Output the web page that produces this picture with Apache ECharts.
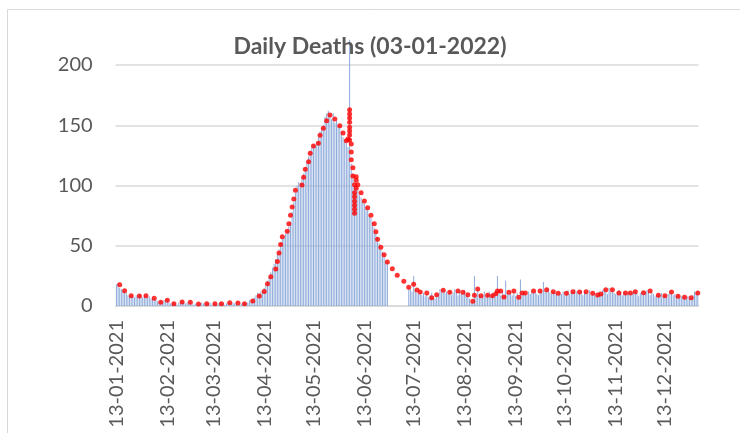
<!DOCTYPE html>
<html>
<head>
<meta charset="utf-8">
<script src="https://cdn.jsdelivr.net/npm/echarts@6/dist/echarts.min.js"></script>
<style>
  html, body { margin: 0; padding: 0; background: #fff; }
  #chart { width: 740px; height: 433px; }
</style>
</head>
<body>
<div id="chart"></div>
<script>
// daily deaths, one value per day from 13-01-2021
const startDay = [2021, 0, 13]
const dailyDeaths = [
  18, 19, 15, 14, 13, 12, 11, 9, 8, 9,
  8, 7, 9, 8, 10, 8, 7, 9, 8, 7,
  8, 6, 7, 6, 5, 4, 3, 4, 3, 5,
  4, 5, 3, 2, 2, 3, 2, 1, 3, 2,
  4, 3, 2, 3, 2, 3, 2, 1, 2, 2,
  1, 2, 3, 2, 1, 2, 2, 3, 1, 2,
  2, 1, 2, 3, 2, 2, 1, 2, 3, 3,
  2, 3, 2, 3, 2, 1, 2, 2, 3, 2,
  3, 5, 4, 6, 7, 9, 11, 10, 12, 13,
  15, 18, 21, 24, 28, 32, 35, 39, 43, 47,
  52, 56, 58, 60, 62, 66, 70, 78, 86, 94,
  100, 103, 102, 106, 110, 115, 120, 124, 129, 132,
  134, 133, 136, 140, 145, 148, 150, 157, 160, 162,
  158, 155, 160, 152, 154, 150, 148, 145, 140, 138,
  135, 132, 221, 118, 110, 100, 98, 96, 92, 90,
  87, 85, 82, 80, 76, 73, 70, 65, 60, 57,
  52, 48, 45, 42, 38, 36, 0, 0, 0, 0,
  0, 0, 0, 0, 0, 0, 0, 0, 15, 14,
  12, 25, 13, 11, 10, 12, 9, 11, 8, 10,
  7, 9, 11, 8, 6, 9, 10, 14, 12, 13,
  11, 12, 10, 13, 9, 11, 14, 12, 9, 12,
  10, 11, 13, 9, 8, 6, 3, 4, 25, 8,
  14, 10, 8, 9, 12, 8, 10, 12, 9, 11,
  8, 10, 25, 13, 9, 12, 8, 21, 11, 10,
  12, 9, 13, 8, 11, 7, 22, 10, 11, 10,
  9, 12, 10, 13, 11, 12, 10, 9, 13, 11,
  20, 13, 12, 14, 11, 10, 12, 11, 10, 9,
  11, 10, 12, 9, 11, 13, 10, 12, 11, 14,
  12, 10, 11, 13, 9, 12, 11, 10, 13, 9,
  10, 11, 8, 9, 12, 10, 13, 14, 12, 10,
  15, 12, 14, 11, 10, 12, 13, 11, 9, 12,
  11, 10, 12, 9, 11, 13, 12, 10, 8, 11,
  12, 10, 11, 13, 12, 9, 11, 10, 8, 9,
  10, 9, 11, 8, 9, 7, 10, 12, 11, 9,
  10, 8, 9, 7, 8, 9, 7, 6, 8, 7,
  7, 9, 12, 11, 12
]

// red dots (reported average), date + value
const dotDates = [
  '15-01-2021', '18-01-2021', '22-01-2021', '27-01-2021', '31-01-2021',
  '05-02-2021', '09-02-2021', '13-02-2021', '17-02-2021', '22-02-2021', '27-02-2021',
  '04-03-2021', '09-03-2021', '14-03-2021', '18-03-2021', '23-03-2021', '28-03-2021',
  '01-04-2021', '06-04-2021', '10-04-2021', '13-04-2021', '15-04-2021', '17-04-2021',
  '20-04-2021', '21-04-2021', '22-04-2021', '23-04-2021', '24-04-2021', '27-04-2021',
  '28-04-2021', '29-04-2021', '30-04-2021',
  '01-05-2021', '02-05-2021', '06-05-2021', '07-05-2021', '08-05-2021', '10-05-2021',
  '11-05-2021', '13-05-2021', '16-05-2021', '17-05-2021', '19-05-2021', '21-05-2021',
  '23-05-2021', '26-05-2021', '29-05-2021', '31-05-2021',
  '02-06-2021', '03-06-2021',
  '04-06-2021', '04-06-2021', '04-06-2021', '04-06-2021', '04-06-2021', '04-06-2021', '04-06-2021', '04-06-2021',
  '05-06-2021', '05-06-2021', '05-06-2021',
  '06-06-2021', '06-06-2021',
  '07-06-2021', '07-06-2021', '07-06-2021', '07-06-2021', '07-06-2021', '07-06-2021', '07-06-2021',
  '08-06-2021', '08-06-2021', '08-06-2021',
  '09-06-2021', '11-06-2021', '13-06-2021', '15-06-2021', '17-06-2021', '19-06-2021',
  '20-06-2021', '21-06-2021', '23-06-2021', '25-06-2021', '27-06-2021', '30-06-2021',
  '03-07-2021', '07-07-2021', '10-07-2021', '13-07-2021', '15-07-2021', '17-07-2021',
  '21-07-2021', '24-07-2021', '27-07-2021', '31-07-2021',
  '04-08-2021', '09-08-2021', '12-08-2021', '15-08-2021', '18-08-2021', '19-08-2021',
  '21-08-2021', '23-08-2021', '27-08-2021', '30-08-2021',
  '01-09-2021', '02-09-2021', '04-09-2021', '06-09-2021', '09-09-2021', '12-09-2021',
  '15-09-2021', '17-09-2021', '19-09-2021', '24-09-2021', '28-09-2021',
  '02-10-2021', '06-10-2021', '09-10-2021', '14-10-2021', '18-10-2021', '22-10-2021',
  '26-10-2021', '30-10-2021',
  '02-11-2021', '04-11-2021', '07-11-2021', '11-11-2021', '15-11-2021', '19-11-2021',
  '22-11-2021', '25-11-2021', '30-11-2021',
  '04-12-2021', '09-12-2021', '13-12-2021', '17-12-2021', '21-12-2021', '25-12-2021',
  '29-12-2021', '02-01-2022'
]
const dotValues = [
  17.7, 12.7, 8.5, 8.3, 8.5,
  6.4, 3.1, 4.7, 1.9, 3.3, 3.1,
  1.7, 1.9, 1.9, 1.9, 2.7, 2.5,
  1.9, 4.1, 8.3, 12, 18.4, 24.3,
  30.7, 37, 44, 51, 57.5, 62,
  68.3, 75.3, 82.2,
  88.8, 96, 100.4, 106.8, 113.4, 119.8,
  126.7, 132.8, 135, 141.7, 147.5, 153.8,
  158.5, 155.2, 149.6, 143.6,
  137.2, 138.6,
  162.9, 159.3, 156, 152.4, 148.3, 145.2, 141.9, 137.8,
  134.4, 127.8, 121.4,
  114.8, 107.9,
  100.7, 94, 90.7, 86.9, 83.6, 80.2, 76.9,
  107.3, 104.3, 97.7,
  100.7, 94, 87.1, 81.6, 75.3, 68.3,
  61.7, 55.4, 48.7, 42.6, 36.5, 31,
  25.5, 20.5, 15.5, 18, 13.3, 11.6,
  10.8, 6.9, 9.4, 13,
  11.4, 12.4, 11.4, 9.4, 3.9, 8.9,
  14.1, 8.5, 8.9, 8.5,
  10.2, 12.4, 12.4, 7.5, 11.4, 12.4,
  7.2, 10.8, 10.8, 12.4, 12.4,
  13.4, 11.9, 10.5, 10.5, 11.9, 11.6,
  11.9, 10.5,
  9.1, 10, 13.5, 13.5, 10.8, 10.8,
  10.8, 11.9, 11,
  12.4, 8.9, 8.5, 11.6, 8, 7.2,
  6.9, 10.8
]

const yTicks = [0, 50, 100, 150, 200]

const pad = n => String(n).padStart(2, '0')
const dates = dailyDeaths.map((_, i) => {
  const d = new Date(Date.UTC(startDay[0], startDay[1], startDay[2] + i))
  return pad(d.getUTCDate()) + '-' + pad(d.getUTCMonth() + 1) + '-' + d.getUTCFullYear()
})
const isLabelDay = (idx, val) => val.slice(0, 2) === '13'

const font = 'Lato, "Open Sans", sans-serif'
const grey = '#595959'

const chart = echarts.init(document.getElementById('chart'))
chart.setOption({
  animation: false,
  backgroundColor: '#fff',
  title: {
    text: 'Daily Deaths (03-01-2022)',
    left: 'center',
    top: 30,
    textStyle: { fontFamily: font, fontWeight: 'bold', fontSize: 23, color: grey },
  },
  graphic: [{
    type: 'rect',
    shape: { x: 7.5, y: 9.5, width: 800, height: 500 },
    style: { fill: 'none', stroke: '#d9d9d9', lineWidth: 1 },
  }],
  grid: { left: 115.6, top: 65, width: 583, bottom: 127 },
  xAxis: {
    type: 'category',
    data: dates,
    boundaryGap: true,
    axisLine: { lineStyle: { color: '#d9d9d9', width: 1.5 } },
    axisTick: { interval: isLabelDay, length: 5, lineStyle: { color: '#d9d9d9', width: 1.5 } },
    axisLabel: {
      interval: isLabelDay,
      rotate: 90,
      margin: 14,
      fontFamily: font,
      fontSize: 20,
      color: grey,
    },
    splitLine: { show: false },
  },
  yAxis: {
    type: 'value',
    min: yTicks[0],
    max: yTicks[yTicks.length - 1],
    interval: 50,
    axisLine: { show: false },
    axisTick: { show: false },
    axisLabel: { margin: 23, fontFamily: font, fontSize: 20, color: grey },
    splitLine: { lineStyle: { color: '#d9d9d9', width: 1.5 } },
  },
  series: [
    {
      name: 'Daily',
      type: 'bar',
      data: dailyDeaths,
      barWidth: 1,
      clip: false,
      itemStyle: { color: '#8eabda' },
    },
    {
      name: 'Average',
      type: 'scatter',
      data: dotDates.map((d, i) => [d, dotValues[i]]),
      symbolSize: 5,
      itemStyle: { color: '#ff0000' },
      z: 3,
    },
  ],
})
</script>
</body>
</html>
